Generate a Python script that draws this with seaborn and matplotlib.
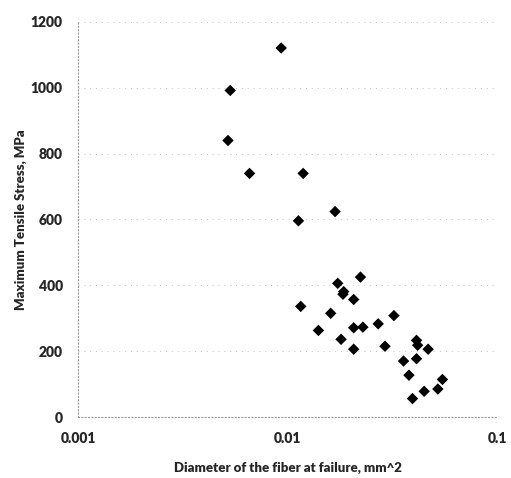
import matplotlib
matplotlib.use("Agg")
import matplotlib.pyplot as plt
import numpy as np
import pandas as pd
import seaborn as sns

# diameter at failure (mm^2) and max tensile stress (MPa)
diameter = [
    0.00933, 0.00533, 0.00520, 0.00659, 0.01188, 0.01128, 0.01687,
    0.01157, 0.01405, 0.01608, 0.01737, 0.01855, 0.01840, 0.02070,
    0.02230, 0.01802, 0.02070, 0.02290, 0.02070, 0.02710, 0.03220,
    0.02920, 0.04130, 0.04180, 0.04690, 0.03580, 0.04130, 0.03800,
    0.03950, 0.04490, 0.05220, 0.05490,
]
stress = [
    1121, 992, 840, 740, 740, 596, 624,
    336, 263, 315, 406, 381, 373, 357,
    425, 236, 271, 273, 206, 283, 308,
    215, 233, 218, 206, 170, 177, 127,
    56, 78, 85, 114,
]
y_ticks = [0, 200, 400, 600, 800, 1000, 1200]
x_ticks = [0.001, 0.01, 0.1]
x_tick_labels = ["0.001", "0.01", "0.1"]

df = pd.DataFrame({"diameter": diameter, "stress": stress})

sns.set_style("white")
plt.rcParams["font.family"] = ["Lato", "DejaVu Sans"]

fig = plt.figure(figsize=(5.11, 4.78), dpi=100)
ax = fig.add_axes([0.1526, 0.1276, 0.82, 0.8264])

sns.scatterplot(data=df, x="diameter", y="stress", marker="D", s=34,
                color="black", edgecolor="none", ax=ax)

ax.set_xscale("log")
ax.set_xlim(0.001, 0.1)
ax.set_ylim(0, 1200)
ax.set_xticks(x_ticks)
ax.set_xticklabels(x_tick_labels)
ax.set_yticks(y_ticks)
ax.minorticks_off()
ax.tick_params(axis="both", length=0, pad=11, labelsize=10)
for lab in ax.get_xticklabels() + ax.get_yticklabels():
    lab.set_fontweight("heavy")

ax.yaxis.grid(True, linestyle=(0, (1, 5)), color="#c8c8c8", linewidth=0.7)
for side in ["top", "right"]:
    ax.spines[side].set_visible(False)
for side in ["left", "bottom"]:
    ax.spines[side].set_linestyle((0, (1, 2)))
    ax.spines[side].set_color("#999999")
    ax.spines[side].set_linewidth(0.8)

ax.set_xlabel("Diameter of the fiber at failure, mm^2", fontsize=9.5,
              fontweight="heavy", labelpad=12)
ax.set_ylabel("Maximum Tensile Stress, MPa", fontsize=9.5,
              fontweight="heavy", labelpad=3)

fig.savefig("out.png", dpi=100)
